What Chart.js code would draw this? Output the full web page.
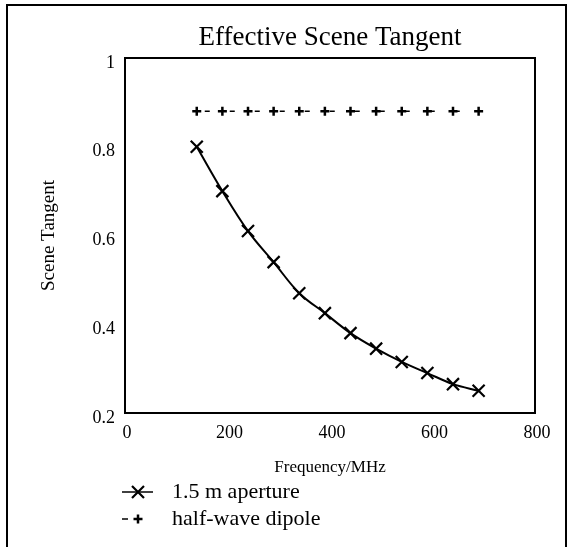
<!DOCTYPE html>
<html>
<head>
<meta charset="utf-8">
<title>Effective Scene Tangent</title>
<script src="https://cdn.jsdelivr.net/npm/chart.js@4/dist/chart.umd.min.js"></script>
<style>
  html, body { margin: 0; padding: 0; background: #fff; }
</style>
</head>
<body>
<canvas id="sceneChart" width="570" height="547"></canvas>
<script>
// --- data ---
const frequencies = [140, 190, 240, 290, 340, 390, 440, 490, 540, 590, 640, 690];
const apertureTangent = [0.80, 0.70, 0.61, 0.54, 0.47, 0.425, 0.38, 0.345, 0.315, 0.29, 0.265, 0.25];
const dipoleTangent = [0.88, 0.88, 0.88, 0.88, 0.88, 0.88, 0.88, 0.88, 0.88, 0.88, 0.88, 0.88];
const seriesNames = ['1.5 m aperture', 'half-wave dipole'];
const xTicks = [0, 200, 400, 600, 800];
const xTickLabels = ['0', '200', '400', '600', '800'];
const yTicks = [0.2, 0.4, 0.6, 0.8, 1];
const yTickLabels = ['0.2', '0.4', '0.6', '0.8', '1'];

const SERIF = '"Liberation Serif", "Times New Roman", serif';

// outer frame + legend drawn by hand (legend reads dataset styles)
const framePlugin = {
    id: 'frame',
    beforeDraw(chart) {
        const c = chart.ctx;
        c.save();
        c.fillStyle = '#fff';
        c.fillRect(0, 0, chart.width, chart.height);
        c.strokeStyle = '#000';
        c.lineWidth = 2;
        c.strokeRect(7, 5, 559, 560);
        c.restore();
    },
    afterDraw(chart) {
        const c = chart.ctx;
        c.save();
        c.fillStyle = '#000';
        c.strokeStyle = '#000';
        c.font = '22px ' + SERIF;
        c.textBaseline = 'middle';
        chart.data.datasets.forEach((ds, i) => {
            const y = 492 + i * 27;
            const cx = 138;
            c.lineWidth = 1.5;
            c.beginPath();
            if (i === 0) {
                c.moveTo(122, y); c.lineTo(153, y);
            } else {
                c.moveTo(122, y); c.lineTo(128, y);
            }
            c.stroke();
            c.lineWidth = ds.pointBorderWidth;
            c.beginPath();
            if (ds.pointStyle === 'crossRot') {
                const r = 6;
                c.moveTo(cx - r, y - r); c.lineTo(cx + r, y + r);
                c.moveTo(cx - r, y + r); c.lineTo(cx + r, y - r);
            } else {
                const r = ds.pointRadius;
                c.moveTo(cx - r, y); c.lineTo(cx + r, y);
                c.moveTo(cx, y - r); c.lineTo(cx, y + r);
            }
            c.stroke();
            c.fillText(ds.label, 172, y);
        });
        c.restore();
    }
};

const ctx = document.getElementById('sceneChart').getContext('2d');
const sceneChart = new Chart(ctx, {
    type: 'line',
    data: {
        datasets: [{
            label: seriesNames[0],
            data: frequencies.map((f, i) => ({ x: f, y: apertureTangent[i] })),
            borderColor: '#000',
            borderWidth: 2,
            tension: 0.35,
            pointStyle: 'crossRot',
            pointRadius: 8.5,
            pointBorderWidth: 2.2,
            pointBorderColor: '#000',
            pointBackgroundColor: '#000',
            fill: false
        }, {
            label: seriesNames[1],
            data: frequencies.map((f, i) => ({ x: f, y: dipoleTangent[i] })),
            borderColor: '#000',
            borderWidth: 1.5,
            borderDash: [5, 20],
            borderDashOffset: -8,
            pointStyle: 'cross',
            pointRadius: 4.5,
            pointBorderWidth: 2.5,
            pointBorderColor: '#000',
            pointBackgroundColor: '#000',
            fill: false
        }]
    },
    options: {
        responsive: false,
        animation: false,
        devicePixelRatio: 1,
        layout: { padding: { left: 0, right: 0, top: 0, bottom: 64 } },
        plugins: {
            legend: { display: false },
            title: { display: false },
            tooltip: { enabled: false }
        },
        scales: {
            x: {
                type: 'linear',
                position: 'bottom',
                min: 0,
                max: 800,
                afterBuildTicks: (s) => { s.ticks = xTicks.map(v => ({ value: v })); },
                afterFit: (s) => { s.height = 70; },
                ticks: {
                    color: '#000',
                    padding: 9,
                    labelOffset: 2,
                    maxRotation: 0,
                    font: { family: SERIF, size: 18 },
                    callback: (v, i) => xTickLabels[i]
                },
                grid: { display: false, drawTicks: false },
                border: { display: true, color: '#000', width: 2 },
                title: {
                    display: true,
                    text: 'Frequency/MHz',
                    color: '#000',
                    font: { family: SERIF, size: 17 },
                    padding: { top: 0, bottom: 5 }
                }
            },
            xTop: {
                type: 'linear',
                position: 'top',
                min: 0,
                max: 800,
                afterFit: (s) => { s.height = 58; },
                ticks: { display: false },
                grid: { display: false, drawTicks: false },
                border: { display: true, color: '#000', width: 2 },
                title: {
                    display: true,
                    text: 'Effective Scene Tangent',
                    color: '#000',
                    font: { family: SERIF, size: 27 },
                    padding: { top: 22, bottom: 0 }
                }
            },
            y: {
                type: 'linear',
                position: 'left',
                min: 0.2,
                max: 1,
                afterBuildTicks: (s) => { s.ticks = yTicks.map(v => ({ value: v })); },
                afterFit: (s) => { s.width = 125; },
                ticks: {
                    color: '#000',
                    padding: 10,
                    labelOffset: 5,
                    font: { family: SERIF, size: 18 },
                    callback: (v, i) => yTickLabels[i]
                },
                grid: { display: false, drawTicks: false },
                border: { display: true, color: '#000', width: 2 },
                title: {
                    display: true,
                    text: 'Scene Tangent',
                    color: '#000',
                    font: { family: SERIF, size: 19 },
                    padding: { top: 38, bottom: 0 }
                }
            },
            yRight: {
                type: 'linear',
                position: 'right',
                min: 0.2,
                max: 1,
                afterFit: (s) => { s.width = 35; },
                ticks: { display: false },
                grid: { display: false, drawTicks: false },
                border: { display: true, color: '#000', width: 2 }
            }
        }
    },
    plugins: [framePlugin]
});
</script>
</body>
</html>
